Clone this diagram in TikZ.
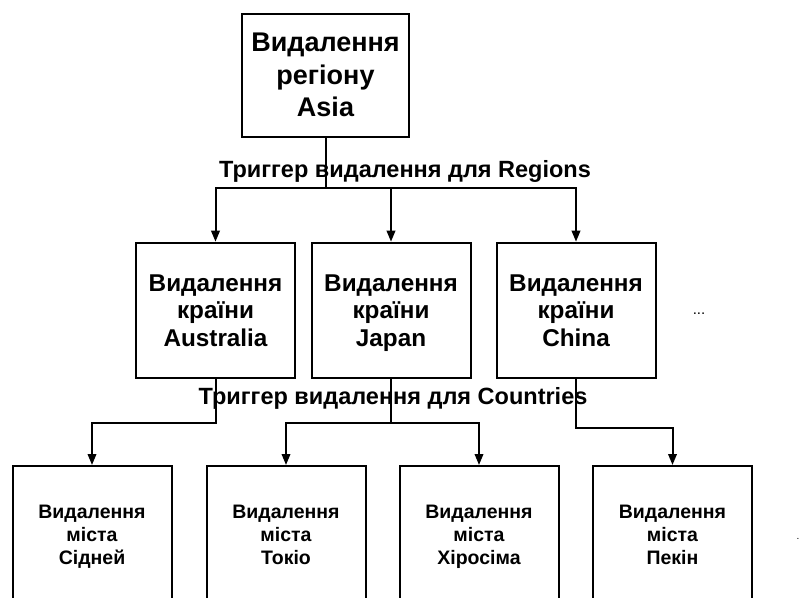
\documentclass[tikz,border=0pt]{standalone}
\usepackage{fontspec}
\setmainfont{Liberation Sans}
\usetikzlibrary{arrows.meta}
\begin{document}
\begin{tikzpicture}[x=1pt,y=-1pt,
  box/.style={draw=black,line width=2pt,rectangle,inner sep=0pt},
  topbox/.style={box,minimum width=167pt,minimum height=123pt},
  midbox/.style={box,minimum width=159pt,minimum height=135.6pt},
  botbox/.style={box,minimum width=159pt,minimum height=137pt},
  txt/.style={inner sep=0pt,align=center,
    execute at begin node={\strut},execute at end node={\strut}},
  toptxt/.style={txt,yshift=-4.5pt,font=\bfseries\fontsize{27}{32.5}\selectfont},
  midtxt/.style={txt,yshift=-4pt,font=\bfseries\fontsize{24.3}{27.5}\selectfont},
  bottxt/.style={txt,yshift=-3.5pt,font=\bfseries\fontsize{19.5}{23}\selectfont},
  lbl/.style={inner sep=0pt,font=\bfseries\fontsize{23.5}{26}\selectfont},
  conn/.style={line width=2pt},
  arr/.style={conn,-{Triangle[length=11pt,width=8.5pt]}}]
\useasboundingbox[fill=white] (0,0) rectangle (802,597);
\node[topbox] (top) at (325.5,75.5) {};
\node[toptxt] (topT) at (top.center) {Видалення\\регіону\\Asia};
\node[midbox] (m1) at (215.5,310.5) {};
\node[midbox] (m2) at (391,310.5) {};
\node[midbox] (m3) at (576,310.5) {};
\node[midtxt] (m1T) at (m1.center) {Видалення\\країни\\Australia};
\node[midtxt] (m2T) at (m2.center) {Видалення\\країни\\Japan};
\node[midtxt] (m3T) at (m3.center) {Видалення\\країни\\China};
\node[botbox] (b1) at (92,534.5) {};
\node[botbox] (b2) at (286,534.5) {};
\node[botbox] (b3) at (479,534.5) {};
\node[botbox] (b4) at (672.5,534.5) {};
\node[bottxt] (b1T) at (b1.center) {Видалення\\міста\\Сідней};
\node[bottxt] (b2T) at (b2.center) {Видалення\\міста\\Токіо};
\node[bottxt] (b3T) at (b3.center) {Видалення\\міста\\Хіросіма};
\node[bottxt] (b4T) at (b4.center) {Видалення\\міста\\Пекін};
\node[inner sep=0pt,font=\fontsize{15}{18}\selectfont] (dots) at (699,314) {...};
\node[inner sep=0pt,font=\fontsize{10}{12}\selectfont] (dot) at (798,539) {.};
% connectors top -> middle
\coordinate (j1) at (325.5,188);
\draw[conn] (top.south) -- (j1);
\draw[arr] (j1) -| (m1.north);
\draw[arr] (j1) -| (m3.north);
\draw[arr] (m2.north |- j1) -- (m2.north);
% connectors middle -> bottom
\draw[arr] (m1.south) -- ++(0,43.5) -| (b1.north);
\draw[conn] (m2.south) -- ++(0,43.5) coordinate (k2);
\draw[arr] (k2) -| (b2.north);
\draw[arr] (k2) -| (b3.north);
\draw[arr] (m3.south) -- ++(0,48.5) -| (b4.north);
% labels drawn on top
\node[lbl] (lr) at (405,171) {Триггер видалення для Regions};
\node[lbl] (lc) at (393,398.5) {Триггер видалення для Countries};
\end{tikzpicture}
\end{document}
